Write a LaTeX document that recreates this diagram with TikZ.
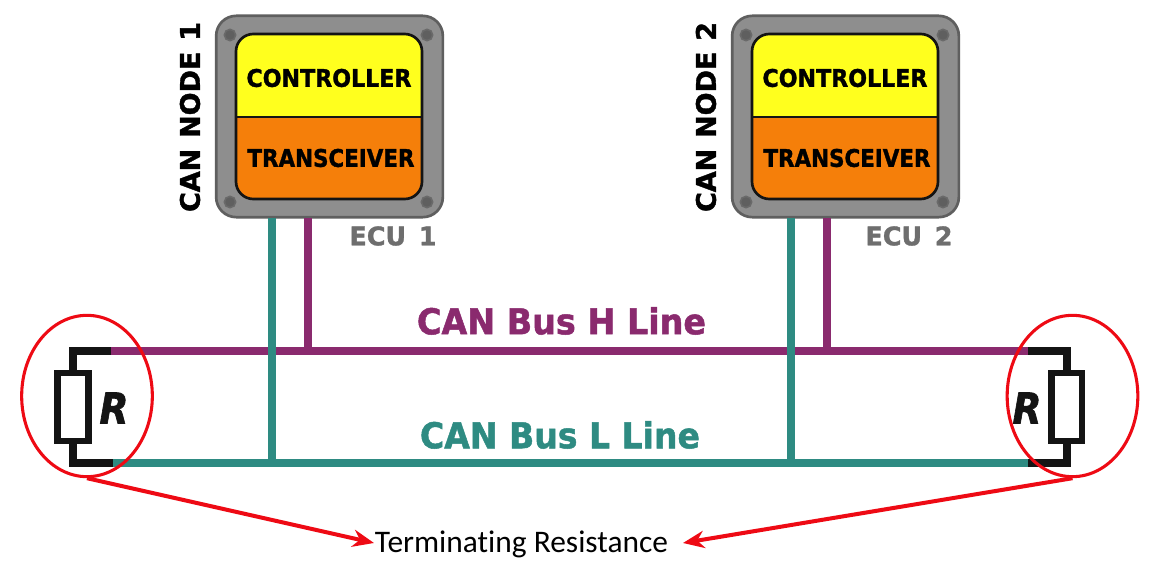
\documentclass[tikz,border=0pt]{standalone}
\usepackage{fontspec}
\usepackage{graphicx}
\setmainfont[Ligatures=NoCommon]{Carlito}
\newfontfamily\heavy[BoldFont={DejaVu Sans Bold},BoldFeatures={FakeBold=1.4}]{DejaVu Sans}
\newfontfamily\heavyit[ItalicFont={DejaVu Sans Bold Oblique},ItalicFeatures={FakeBold=1.6}]{DejaVu Sans}
\newlength{\unitpx}\setlength{\unitpx}{0.75pt}
\newcommand{\fittext}[3]{\resizebox{#1\unitpx}{#2\unitpx}{\heavy\bfseries #3}}
\usetikzlibrary{arrows.meta,calc,shapes.geometric}
\definecolor{busH}{HTML}{8A2A6E}
\definecolor{busL}{HTML}{2E8B82}
\definecolor{caseG}{HTML}{8E8E8E}
\definecolor{caseE}{HTML}{5F5F5F}
\definecolor{ctrlY}{HTML}{FFFF1E}
\definecolor{transO}{HTML}{F57F0A}
\definecolor{lineK}{HTML}{141414}
\definecolor{ecuG}{HTML}{6E6E6E}
\definecolor{markR}{HTML}{EE0A14}
\tikzset{
  x=0.75pt,y=-0.75pt,
  casebox/.style={draw=caseE,fill=caseG,line width=2pt,rounded corners=15pt,minimum width=170pt,minimum height=151pt,inner sep=0pt},
  screw/.style={circle,draw=caseG!75!black,fill=caseE,line width=1.2pt,minimum size=8.5pt,inner sep=0pt},
  blackwire/.style={draw=lineK,line width=6pt,line cap=butt,line join=miter},
  hwire/.style={draw=busH,line width=6pt},
  lwire/.style={draw=busL,line width=6pt},
  resistor/.style={draw=lineK,fill=white,line width=5pt,minimum width=23pt,minimum height=51pt,inner sep=0pt},
  marker/.style={draw=markR,line width=2.3pt,ellipse,minimum width=98pt,minimum height=121pt,inner sep=0pt},
  pointer/.style={draw=markR,line width=3pt,-{Stealth[length=16pt,width=13pt]}},
  plain/.style={inner sep=0pt,outer sep=0pt}
}
\newcommand{\ecu}[5]{%
  \node[casebox] (#1) at (#2+114.5,116.5) {};
  \begin{scope}
    \clip[rounded corners=13pt] (#2+21,34) rectangle (#2+207,199);
    \fill[ctrlY] (#2+21,34) rectangle (#2+207,117);
    \fill[transO] (#2+21,117) rectangle (#2+207,199);
  \end{scope}
  \draw[lineK,line width=2pt,rounded corners=13pt] (#2+21,34) rectangle (#2+207,199);
  \draw[lineK,line width=1.5pt] (#2+21,117) -- (#2+207,117);
  \foreach \sx/\sy in {15/35,212/35,15/202,212/202}{\node[screw] at (#2+\sx,\sy) {};}
  \node[plain] at (#2+114,78) {\fittext{165}{18}{CONTROLLER}};
  \node[plain] at (#2+116,158) {\fittext{167}{18}{TRANSCEIVER}};
  \node[plain,rotate=90] at (#2-25,117) {\fittext{190}{20}{CAN\hspace{0.4em}NODE\hspace{0.4em}#3}};
  \node[plain,text=ecuG] at (#2+178,236) {\fittext{87}{19}{ECU\hspace{0.5em}#3}};
  \coordinate (#1L) at (#4,218);
  \coordinate (#1H) at (#5,218);
}
\begin{document}
\begin{tikzpicture}
\useasboundingbox (0,0) rectangle (1154,567);
\fill[white] (0,0) rectangle (1154,567);
\ecu{nodeA}{215}{1}{272}{308}
\ecu{nodeB}{731}{2}{791}{827}

\coordinate (hl) at (111,351); \coordinate (hr) at (1028,351);
\coordinate (ll) at (113,463); \coordinate (lr) at (1028,463);
\coordinate (hA) at (308,351); \coordinate (hB) at (827,351);
\coordinate (lA) at (272,463); \coordinate (lB) at (791,463);

\draw[hwire] (hl) -- (hr);
\draw[lwire] (ll) -- (lr);
\draw[lwire] (nodeAL) -- (lA);
\draw[hwire] (nodeAH) -- (hA);
\draw[lwire] (nodeBL) -- (lB);
\draw[hwire] (nodeBH) -- (hB);

\node[resistor] (resL) at (73,407) {};
\node[resistor] (resR) at (1066.5,407) {};
\draw[blackwire] (hl) -| (resL.north);
\draw[blackwire] (ll) -| (resL.south);
\draw[blackwire] (hr) -| (resR.north);
\draw[blackwire] (lr) -| (resR.south);
\node[plain,lineK] at (114,408) {\resizebox{29\unitpx}{31\unitpx}{\heavyit\itshape R}};
\node[plain,lineK] at (1027,408) {\resizebox{29\unitpx}{31\unitpx}{\heavyit\itshape R}};

\node[plain,text=busH] at (561.5,321) {\fittext{289}{27}{CAN Bus H Line}};
\node[plain,text=busL] at (560,435) {\fittext{280}{27}{CAN Bus L Line}};

\node[marker] (ringL) at (87,396) {};
\node[marker] (ringR) at (1072.5,396) {};
\node[plain,anchor=center,text=black] (term) at (521.5,544) {\resizebox{293\unitpx}{!}{Terminating Resistance}};
\coordinate (termL) at (374,543);
\coordinate (termR) at (683,543);
\draw[pointer] (ringL.south) -- (termL);
\draw[pointer] (ringR.south) -- (termR);
\end{tikzpicture}
\end{document}
